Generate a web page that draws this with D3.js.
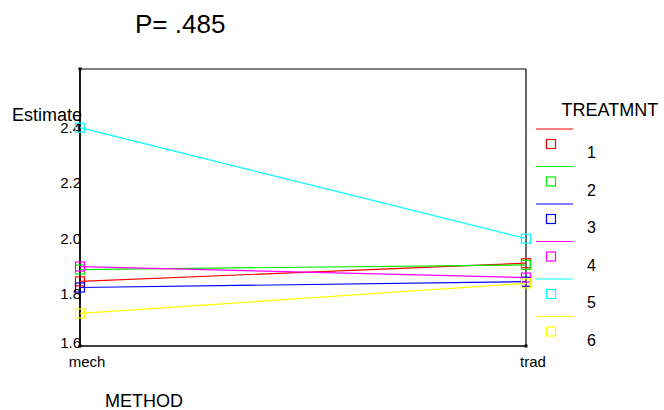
<!DOCTYPE html>
<html><head><meta charset="utf-8">
<script src="https://cdn.jsdelivr.net/npm/d3@7"></script>
<style>
html,body{margin:0;padding:0;background:#fff;}
svg{display:block;font-family:"Liberation Sans",Arial,sans-serif;}
</style></head>
<body>
<svg id="chart" width="664" height="410"></svg>
<script>
// ---- data ----
const methods = ["mech", "trad"];
const treatments = ["1", "2", "3", "4", "5", "6"];
const colors = ["#ff0000", "#00ee00", "#0000ff", "#ff00ff", "#00ffff", "#ffff00"];
const t1 = [1.843, 1.909];
const t2 = [1.886, 1.903];
const t3 = [1.821, 1.842];
const t4 = [1.897, 1.857];
const t5 = [2.400, 1.998];
const t6 = [1.727, 1.836];
const seriesValues = [t1, t2, t3, t4, t5, t6];
const yTicks = [1.6, 1.8, 2.0, 2.2, 2.4];
const titleText = "P= .485";

// ---- layout ----
const svg = d3.select("#chart");
const L = 80, R = 526, T = 69, B = 346;

const x = d3.scalePoint().domain(methods).range([L, R]).padding(0);
const y = d3.scaleLinear().domain([1.6, 2.4]).range([348.5, 127.7]);

// frame
svg.append("line").attr("x1", L).attr("x2", R).attr("y1", T).attr("y2", T).attr("stroke", "#000").attr("stroke-width", 1.2);
svg.append("line").attr("x1", R).attr("x2", R).attr("y1", T).attr("y2", B).attr("stroke", "#000").attr("stroke-width", 1.2);
svg.append("line").attr("x1", L).attr("x2", R).attr("y1", B).attr("y2", B).attr("stroke", "#000").attr("stroke-width", 1.6);
svg.append("line").attr("x1", L).attr("x2", L).attr("y1", T).attr("y2", B).attr("stroke", "#000").attr("stroke-width", 1.8);
// corner dots
[[L, T], [L, B], [R, B]].forEach(p => {
  svg.append("rect").attr("x", p[0] - 1.5).attr("y", p[1] - 1.5).attr("width", 3).attr("height", 3).attr("fill", "#000");
});

// y tick labels
svg.append("g").selectAll("text").data(yTicks).join("text")
  .attr("x", 81).attr("y", d => Math.min(y(d), 343))
  .attr("dy", "0.36em").attr("text-anchor", "end")
  .attr("font-size", 15).attr("fill", "#000")
  .text(d => d.toFixed(1));

// x tick labels
svg.append("g").selectAll("text").data(methods).join("text")
  .attr("x", d => x(d) + 7).attr("y", 366.5)
  .attr("text-anchor", "middle").attr("font-size", 15).attr("fill", "#000")
  .text(d => d);

// titles
svg.append("text").attr("x", 135).attr("y", 33).attr("font-size", 26).text(titleText);
svg.append("text").attr("x", 12).attr("y", 121).attr("font-size", 18).text("Estimate");
svg.append("text").attr("x", 105).attr("y", 407).attr("font-size", 18).text("METHOD");
svg.append("text").attr("x", 561.5).attr("y", 116).attr("font-size", 18).text("TREATMNT");

// series
const line = d3.line().x((d, i) => x(methods[i])).y(d => y(d));
const g = svg.append("g");
seriesValues.forEach((vals, k) => {
  g.append("path").attr("d", line(vals)).attr("fill", "none")
    .attr("stroke", colors[k]).attr("stroke-width", 1.2);
});
seriesValues.forEach((vals, k) => {
  g.selectAll(null).data(vals).join("rect")
    .attr("x", (d, i) => x(methods[i]) - 4.5).attr("y", d => y(d) - 4.5)
    .attr("width", 9).attr("height", 9)
    .attr("fill", "none").attr("stroke", colors[k]).attr("stroke-width", 1.2);
});

// legend
const lg = svg.append("g");
treatments.forEach((t, i) => {
  const yy = 129 + 37.5 * i;
  lg.append("line").attr("x1", 536).attr("x2", 573).attr("y1", yy).attr("y2", yy)
    .attr("stroke", colors[i]).attr("stroke-width", 1.2);
  lg.append("rect").attr("x", 551 - 4.5).attr("y", yy + 15 - 4.5).attr("width", 9).attr("height", 9)
    .attr("fill", "#fff").attr("stroke", colors[i]).attr("stroke-width", 1.2);
  lg.append("text").attr("x", 587).attr("y", yy + 29).attr("font-size", 16).text(t);
});
</script>
</body></html>
